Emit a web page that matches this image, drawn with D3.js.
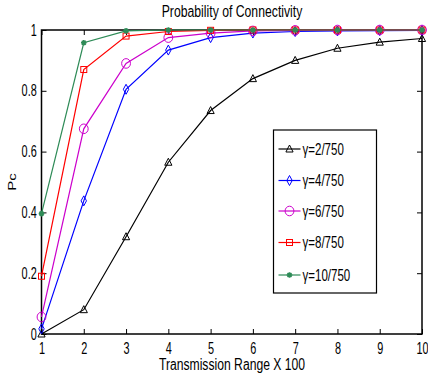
<!DOCTYPE html>
<html>
<head>
<meta charset="utf-8">
<script src="https://cdn.jsdelivr.net/npm/d3@7"></script>
<style>
  body { margin: 0; background: #fff; }
  text { font-family: "Liberation Sans", Arial, Helvetica, sans-serif; fill: #000; }
</style>
</head>
<body>
<svg id="chart" width="428" height="376"></svg>
<script>
var margin = { top: 30, right: 6, bottom: 42, left: 41.5 },
    width = 428 - margin.left - margin.right,
    height = 376 - margin.top - margin.bottom;

// the original figure is squeezed sideways, so text gets a narrow look
var sx = 0.72;

const ranges = [1, 2, 3, 4, 5, 6, 7, 8, 9, 10];
const labels = ['\u03b3=2/750', '\u03b3=4/750', '\u03b3=6/750', '\u03b3=8/750', '\u03b3=10/750'];
const g2 = [0, 0.08, 0.32, 0.565, 0.735, 0.84, 0.9, 0.94, 0.96, 0.972];
const g4 = [0.017, 0.438, 0.805, 0.934, 0.975, 0.99, 0.995, 0.997, 0.998, 0.999];
const g6 = [0.056, 0.675, 0.89, 0.975, 0.99, 0.997, 0.999, 1, 1, 1];
const g8 = [0.19, 0.87, 0.98, 0.995, 0.999, 1, 1, 1, 1, 1];
const g10 = [0.396, 0.958, 0.997, 1, 1, 1, 1, 1, 1, 1];
const yTicks = [0, 0.2, 0.4, 0.6, 0.8, 1];

var colors = ['#000000', '#0000ff', '#cc00cc', '#ff0000', '#2e8b57'];
var markers = ['triangle', 'diamond', 'circle', 'square', 'star'];
var series = [g2, g4, g6, g8, g10];

var svg = d3.select("#chart");
var g = svg.append("g").attr("transform", `translate(${margin.left},${margin.top})`);

var x = d3.scaleLinear().domain([1, 10]).range([0, width]);
var y = d3.scaleLinear().domain([0, 1]).range([height, 0]);

// box + inward ticks
g.append("rect").attr("width", width).attr("height", height)
    .attr("fill", "none").attr("stroke", "#000").attr("stroke-width", 1.5);

var xb = g.append("g").attr("transform", `translate(0,${height})`)
    .call(d3.axisBottom(x).tickValues(ranges).tickSizeInner(-5).tickSizeOuter(0).tickPadding(9));
var xt = g.append("g").call(d3.axisTop(x).tickValues(ranges).tickSizeInner(-5).tickSizeOuter(0).tickFormat(""));
var yl = g.append("g").call(d3.axisLeft(y).tickValues(yTicks).tickSizeInner(-5).tickSizeOuter(0)
    .tickPadding(7).tickFormat(d => d === 0 ? "0" : d === 1 ? "1" : d3.format(".1f")(d)));
var yr = g.append("g").attr("transform", `translate(${width},0)`)
    .call(d3.axisRight(y).tickValues(yTicks).tickSizeInner(-5).tickSizeOuter(0).tickFormat(""));

[xb, xt, yl, yr].forEach(a => {
    a.select(".domain").remove();
    a.selectAll(".tick line").attr("stroke", "#000");
    a.selectAll(".tick text").attr("fill", "#000")
        .style("font-size", "16px").style("font-family", '"Liberation Sans", Arial, sans-serif')
        .attr("transform", "scale(0.68,1)");
});

function drawMarker(sel, type, color) {
    if (type === 'triangle') {
        sel.append("path").attr("d", "M0,-4L3.6,3L-3.6,3Z").attr("fill", "none").attr("stroke", color);
    } else if (type === 'diamond') {
        sel.append("path").attr("d", "M0,-5L2.7,0L0,5L-2.7,0Z").attr("fill", "none").attr("stroke", color);
    } else if (type === 'circle') {
        sel.append("ellipse").attr("rx", 4.4).attr("ry", 4.8).attr("fill", "none").attr("stroke", color);
    } else if (type === 'square') {
        sel.append("rect").attr("x", -3).attr("y", -3).attr("width", 6).attr("height", 6)
            .attr("fill", "none").attr("stroke", color);
    } else {
        sel.append("path").attr("d", "M-2.8,0L2.8,0M0,-2.8L0,2.8M-2,-2L2,2M-2,2L2,-2")
            .attr("stroke", color).attr("stroke-width", 1.6);
    }
}

var line = d3.line().x((d, i) => x(ranges[i])).y(d => y(d));

series.forEach((s, k) => {
    g.append("path").datum(s).attr("d", line).attr("fill", "none")
        .attr("stroke", colors[k]).attr("stroke-width", 1.2);
    s.forEach((v, i) => {
        var m = g.append("g").attr("transform", `translate(${x(ranges[i])},${y(v)})`);
        drawMarker(m, markers[k], colors[k]);
    });
});

// legend
var lg = svg.append("g").attr("transform", "translate(273.5,130)");
lg.append("rect").attr("width", 103).attr("height", 163)
    .attr("fill", "#fff").attr("stroke", "#000").attr("stroke-width", 1.2);
var rowY = [19, 50.5, 81, 112.5, 145];
labels.forEach((lab, k) => {
    var row = lg.append("g").attr("transform", `translate(0,${rowY[k]})`);
    row.append("line").attr("x1", 5).attr("x2", 27).attr("stroke", colors[k]).attr("stroke-width", 1.2);
    var m = row.append("g").attr("transform", "translate(16,0)");
    drawMarker(m, markers[k], colors[k]);
    row.append("text").attr("transform", `translate(29,0) scale(${sx},1)`)
        .attr("dy", "0.36em").style("font-size", "16px").text(lab);
});

// title & labels
svg.append("text").attr("transform", `translate(232,17) scale(${sx},1)`).attr("text-anchor", "middle")
    .style("font-size", "17px").text("Probability of Connectivity");
svg.append("text").attr("transform", `translate(232,370) scale(0.76,1)`).attr("text-anchor", "middle")
    .style("font-size", "16px").text("Transmission Range X 100");
svg.append("text").attr("transform", `translate(16,182) scale(${sx},1) rotate(-90)`).attr("text-anchor", "middle")
    .style("font-size", "15px").text("Pc");
</script>
</body>
</html>
